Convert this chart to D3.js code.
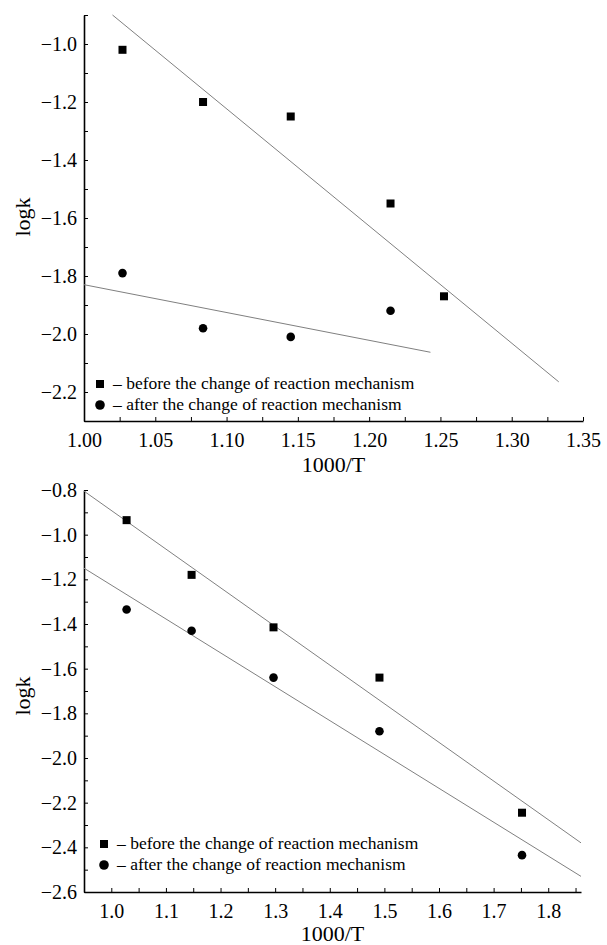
<!DOCTYPE html>
<html>
<head>
<meta charset="utf-8">
<script src="https://cdn.jsdelivr.net/npm/d3@7"></script>
<style>
  body { margin: 0; background: #fff; }
  svg { display: block; font-family: "Liberation Serif", "Times New Roman", serif; }
</style>
</head>
<body>
<svg id="chart" width="607" height="945"></svg>
<script>
const serif = "'Liberation Serif', 'Times New Roman', serif";

// top panel
const topXBefore = [1.027, 1.0835, 1.145, 1.215, 1.2525];
const topBefore = [-1.02, -1.20, -1.25, -1.55, -1.87];
const topXAfter = [1.027, 1.0835, 1.145, 1.215];
const topAfter = [-1.79, -1.98, -2.01, -1.92];
const topFitBefore = [[1.02, -0.90], [1.333, -2.165]];
const topFitAfter = [[1.0, -1.83], [1.243, -2.063]];
const topXTicks = [1.00, 1.05, 1.10, 1.15, 1.20, 1.25, 1.30, 1.35];
const topYTicks = [-2.2, -2.0, -1.8, -1.6, -1.4, -1.2, -1.0];

// bottom panel
const botX = [1.028, 1.147, 1.297, 1.491, 1.752];
const botBefore = [-0.935, -1.18, -1.415, -1.64, -2.245];
const botAfter = [-1.335, -1.43, -1.64, -1.88, -2.435];
const botFitBefore = [[0.95, -0.805], [1.86, -2.38]];
const botFitAfter = [[0.95, -1.15], [1.86, -2.53]];
const botXTicks = [1.0, 1.1, 1.2, 1.3, 1.4, 1.5, 1.6, 1.7, 1.8];
const botYTicks = [-2.6, -2.4, -2.2, -2.0, -1.8, -1.6, -1.4, -1.2, -1.0, -0.8];

const legendLabels = ["– before the change of reaction mechanism",
                      "– after the change of reaction mechanism"];

const svg = d3.select("#chart");

function panel(cfg) {
    const x = d3.scaleLinear().domain(cfg.xDomain).range(cfg.xRange);
    const y = d3.scaleLinear().domain(cfg.yDomain).range(cfg.yRange);
    const g = svg.append("g");

    // minor ticks
    g.append("g")
        .attr("transform", `translate(0,${cfg.yRange[0]})`)
        .call(d3.axisBottom(x).tickValues(cfg.xMinor).tickSize(-4).tickFormat(""))
        .call(a => a.select(".domain").remove());
    g.append("g")
        .attr("transform", `translate(${cfg.xRange[0]},0)`)
        .call(d3.axisLeft(y).tickValues(cfg.yMinor).tickSize(-4).tickFormat(""))
        .call(a => a.select(".domain").remove());

    const xa = g.append("g")
        .attr("transform", `translate(0,${cfg.yRange[0]})`)
        .call(d3.axisBottom(x).tickValues(cfg.xTicks).tickSize(-4).tickSizeOuter(0)
            .tickPadding(12).tickFormat(d3.format(cfg.xFmt)));
    const ya = g.append("g")
        .attr("transform", `translate(${cfg.xRange[0]},0)`)
        .call(d3.axisLeft(y).tickValues(cfg.yTicks).tickSize(-4).tickSizeOuter(0)
            .tickPadding(7).tickFormat(d3.format(".1f")));
    [xa, ya].forEach(a => {
        a.selectAll("text")
            .attr("font-family", serif)
            .attr("font-size", 20)
            .attr("fill", "#000");
        a.select(".domain").attr("stroke", "#000").attr("stroke-width", 1.6);
    });
    g.selectAll(".tick line").attr("stroke", "#000");

    g.append("text")
        .attr("x", (cfg.xRange[0] + cfg.xRange[1]) / 2)
        .attr("y", cfg.yRange[0] + cfg.titleDy)
        .attr("dy", "0.35em")
        .attr("text-anchor", "middle")
        .attr("font-family", serif)
        .attr("font-size", 22)
        .text("1000/T");
    g.append("text")
        .attr("transform", `translate(22,${cfg.labelY}) rotate(-90)`)
        .attr("dy", "0.35em")
        .attr("text-anchor", "middle")
        .attr("font-family", serif)
        .attr("font-size", 22)
        .text("logk");

    // fit lines
    const line = d3.line().x(d => x(d[0])).y(d => y(d[1]));
    g.append("g")
        .attr("fill", "none")
        .attr("stroke", "#808080")
        .attr("stroke-width", 1)
        .selectAll("path")
        .data([cfg.fitBefore, cfg.fitAfter])
        .join("path")
        .attr("d", line);

    // points
    g.append("g")
        .selectAll("rect")
        .data(d3.zip(cfg.xBefore, cfg.before))
        .join("rect")
        .attr("x", d => x(d[0]) - 4)
        .attr("y", d => y(d[1]) - 4)
        .attr("width", 8)
        .attr("height", 8)
        .attr("fill", "#000");
    g.append("g")
        .selectAll("circle")
        .data(d3.zip(cfg.xAfter, cfg.after))
        .join("circle")
        .attr("cx", d => x(d[0]))
        .attr("cy", d => y(d[1]))
        .attr("r", 4.3)
        .attr("fill", "#000");

    // legend
    const lg = g.append("g").attr("transform", `translate(${cfg.legend[0]},${cfg.legend[1]})`);
    lg.append("rect").attr("x", -4).attr("y", -4).attr("width", 8).attr("height", 8).attr("fill", "#000");
    lg.append("circle").attr("cx", 0).attr("cy", 21).attr("r", 4.8).attr("fill", "#000");
    lg.selectAll("text")
        .data(legendLabels)
        .join("text")
        .attr("x", 13)
        .attr("y", (d, i) => i * 21)
        .attr("dy", "0.3em")
        .attr("font-family", serif)
        .attr("font-size", 17.5)
        .text(d => d);
}

panel({
    xDomain: [1.0, 1.35], xRange: [84, 583],
    yDomain: [-2.3, -0.9], yRange: [421, 15],
    xTicks: topXTicks, xFmt: ".2f",
    xMinor: d3.range(1.025, 1.35, 0.05),
    yTicks: topYTicks,
    yMinor: [-2.3, -2.1, -1.9, -1.7, -1.5, -1.3, -1.1, -0.9],
    xBefore: topXBefore, before: topBefore,
    xAfter: topXAfter, after: topAfter,
    fitBefore: topFitBefore, fitAfter: topFitAfter,
    legend: [100, 384], labelY: 217, titleDy: 43
});

panel({
    xDomain: [0.95, 1.86], xRange: [84, 581],
    yDomain: [-2.6, -0.8], yRange: [892, 490],
    xTicks: botXTicks, xFmt: ".1f",
    xMinor: d3.range(0.95, 1.86, 0.1),
    yTicks: botYTicks,
    yMinor: [-2.5, -2.3, -2.1, -1.9, -1.7, -1.5, -1.3, -1.1, -0.9],
    xBefore: botX, before: botBefore,
    xAfter: botX, after: botAfter,
    fitBefore: botFitBefore, fitAfter: botFitAfter,
    legend: [104, 844], labelY: 696, titleDy: 41
});
</script>
</body>
</html>
